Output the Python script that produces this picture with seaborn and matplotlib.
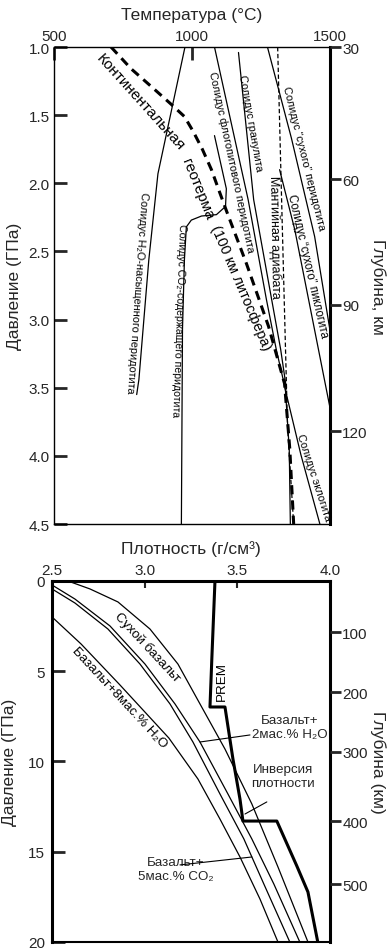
import matplotlib
matplotlib.use("Agg")
import matplotlib.pyplot as plt
import numpy as np
import seaborn as sns

sns.set_theme(style="ticks")
plt.rcParams['font.family'] = ['Liberation Sans', 'DejaVu Sans']

# ---------- top panel: temperature (C) vs pressure (GPa) ----------
geotherm_t = [707, 780, 853, 925, 973, 1005, 1038, 1071, 1096, 1125, 1198, 1278, 1336, 1355, 1369]
geotherm_p = [1.0, 1.16, 1.29, 1.42, 1.51, 1.62, 1.75, 1.90, 2.04, 2.20, 2.59, 3.05, 3.47, 3.95, 4.5]

h2o_sol_t = [975, 935, 877, 844, 808, 800]
h2o_sol_p = [1.0, 1.38, 1.93, 2.56, 3.44, 3.55]

co2_sol_t = [1082, 1125, 1122, 1089, 1035, 998, 980, 973, 966, 962]
co2_sol_p = [1.65, 2.04, 2.17, 2.23, 2.24, 2.27, 2.32, 2.56, 3.07, 4.5]

phlog_t = [1082, 1204, 1270, 1306, 1339, 1353, 1357]
phlog_p = [1.0, 2.12, 2.85, 3.22, 3.51, 3.95, 4.5]

granul_t = [1169, 1224, 1289, 1322, 1343]
granul_p = [1.04, 2.12, 2.85, 3.22, 3.51]

dry_perid_t = [1274, 1361, 1445, 1500]
dry_perid_p = [1.0, 1.67, 2.39, 3.07]

dry_piclog_t = [1318, 1373, 1500]
dry_piclog_p = [1.90, 2.34, 3.64]

adiabat_t = [1311, 1329, 1347, 1369]
adiabat_p = [1.0, 2.41, 3.80, 4.5]

eclog_t = [1337, 1395, 1464]
eclog_p = [3.5, 3.99, 4.5]

temp_ticks = [500, 1000, 1500]
p_ticks_top = [1.0, 1.5, 2.0, 2.5, 3.0, 3.5, 4.0, 4.5]
depth_km_top = [30, 60, 90, 120]
depth_gpa_top = [1.0, 1.97, 2.89, 3.82]

# ---------- bottom panel: density (g/cm3) vs pressure (GPa) ----------
dry_bas_rho = [2.586, 2.705, 2.856, 3.029, 3.180, 3.299, 3.434, 3.579, 3.720, 3.882]
dry_bas_p = [0.0, 0.44, 1.16, 2.66, 4.60, 6.81, 9.31, 12.35, 15.84, 20.0]

h2o2_rho = [2.5, 2.624, 2.813, 3.002, 3.164, 3.299, 3.450, 3.579, 3.698, 3.838]
h2o2_p = [0.22, 1.0, 2.49, 4.60, 6.81, 8.92, 11.80, 14.29, 16.79, 20.0]

co2_5_rho = [2.5, 2.624, 2.802, 2.975, 3.137, 3.261, 3.407, 3.536, 3.644, 3.784]
co2_5_p = [0.44, 1.22, 2.66, 4.60, 6.81, 8.92, 11.80, 14.29, 16.79, 20.0]

h2o8_rho = [2.5, 2.657, 2.867, 3.131, 3.288, 3.407, 3.515, 3.623, 3.720]
h2o8_p = [1.99, 3.49, 5.76, 8.70, 10.97, 13.19, 15.29, 17.62, 20.0]

prem_rho = [3.380, 3.363, 3.353, 3.434, 3.477, 3.515, 3.531, 3.714, 3.822, 3.882, 3.935]
prem_p = [0.0, 4.32, 6.98, 6.98, 9.86, 12.08, 13.30, 13.30, 15.79, 17.23, 20.0]

rho_ticks = [2.5, 3.0, 3.5, 4.0]
p_ticks_bot = [0, 5, 10, 15, 20]
depth_km_bot = [100, 200, 300, 400, 500]
depth_gpa_bot = [2.83, 6.15, 9.47, 13.3, 16.8]

fig = plt.figure(figsize=(3.88, 9.53), dpi=100)
ax1 = fig.add_axes([0.139, 0.4491, 0.711, 0.5005])
ax2 = fig.add_axes([0.134, 0.0105, 0.716, 0.3788])


def curve(ax, x, y, lw=0.9, **kw):
    sns.lineplot(x=x, y=y, ax=ax, sort=False, estimator=None, color='black',
                 lw=lw, legend=False, **kw)


# top panel curves
curve(ax1, geotherm_t, geotherm_p, lw=2.2, linestyle=(0, (3, 2)))
curve(ax1, h2o_sol_t, h2o_sol_p)
curve(ax1, co2_sol_t, co2_sol_p)
curve(ax1, phlog_t, phlog_p)
curve(ax1, granul_t, granul_p)
curve(ax1, dry_perid_t, dry_perid_p)
curve(ax1, dry_piclog_t, dry_piclog_p)
curve(ax1, adiabat_t, adiabat_p, lw=0.9, linestyle=(0, (3.5, 2)))
curve(ax1, eclog_t, eclog_p)

ax1.set_xlim(500, 1500)
ax1.set_ylim(4.5, 1.0)
ax1.xaxis.tick_top()
ax1.xaxis.set_label_position('top')
ax1.set_xticks(temp_ticks)
ax1.set_yticks(p_ticks_top)
ax1.set_yticklabels([f'{v:.1f}' for v in p_ticks_top])
ax1.tick_params(axis='x', direction='in', length=9, width=2, labelsize=11, pad=3,
                top=True, bottom=False)
ax1.tick_params(axis='y', direction='in', length=9, width=2, labelsize=11, pad=3)
ax1.set_xlabel('Температура (°C)', fontsize=12.5, labelpad=7)
ax1.set_ylabel('Давление (ГПа)', fontsize=12.5, labelpad=5)
for side, w in [('top', 1), ('left', 1), ('bottom', 1), ('right', 2.2)]:
    ax1.spines[side].set_linewidth(w)
    ax1.spines[side].set_color('black')

ax1r = ax1.twinx()
ax1r.set_ylim(4.5, 1.0)
ax1r.set_yticks(depth_gpa_top)
ax1r.set_yticklabels([str(v) for v in depth_km_top])
ax1r.tick_params(axis='y', direction='out', length=8, width=2, labelsize=11, pad=1)
ax1r.set_ylabel('Глубина, км', fontsize=12.5, rotation=270, labelpad=13)
for s in ax1r.spines.values():
    s.set_visible(False)

lab = dict(color='black', ha='center', va='center', rotation_mode='anchor')
sol = 7.9
ax1.text(813, 1.40, 'Континентальная', fontsize=11, rotation=-48, **lab)
ax1.text(1020, 2.04, 'геотерма', fontsize=11, rotation=-68, **lab)
ax1.text(1176, 2.76, '(100 км литосфера)', fontsize=10.5, rotation=-67, **lab)
ax1.text(1144, 1.84, 'Солидус флогопитового перидотита', fontsize=sol, rotation=-78, **lab)
ax1.text(1213, 1.55, 'Солидус гранулита', fontsize=sol, rotation=-80, **lab)
ax1.text(1405, 1.81, 'Солидус “сухого” перидотита', fontsize=sol, rotation=-76, **lab)
ax1.text(1420, 2.60, 'Солидус “сухого” пиклогита', fontsize=8.3, rotation=-77, **lab)
ax1.text(1299, 2.39, 'Мантийная адиабата', fontsize=9, rotation=-89, **lab)
ax1.text(1442, 4.15, 'Солидус эклогита', fontsize=sol, rotation=-72, **lab)
ax1.text(802, 2.80, 'Солидус H₂O-насыщенного перидотита', fontsize=sol, rotation=-94, **lab)
ax1.text(951, 3.00, 'Солидус CO₂-содержащего перидотита', fontsize=7.6, rotation=-92, **lab)

# bottom panel curves
curve(ax2, dry_bas_rho, dry_bas_p)
curve(ax2, h2o2_rho, h2o2_p)
curve(ax2, co2_5_rho, co2_5_p)
curve(ax2, h2o8_rho, h2o8_p)
curve(ax2, prem_rho, prem_p, lw=2.2)

ax2.set_xlim(2.5, 4.0)
ax2.set_ylim(20, 0)
ax2.xaxis.tick_top()
ax2.xaxis.set_label_position('top')
ax2.set_xticks(rho_ticks)
ax2.set_xticklabels([f'{v:.1f}' for v in rho_ticks])
ax2.set_yticks(p_ticks_bot)
ax2.tick_params(axis='x', direction='in', length=5, width=1.5, labelsize=11, pad=3,
                top=True, bottom=False)
ax2.tick_params(axis='y', direction='in', length=9, width=2, labelsize=11, pad=5)
ax2.set_xlabel('Плотность (г/см³)', fontsize=12.5, labelpad=7)
ax2.set_ylabel('Давление (ГПа)', fontsize=12.5, labelpad=8)
for side, w in [('top', 2.2), ('left', 2.2), ('bottom', 1.5), ('right', 2.2)]:
    ax2.spines[side].set_linewidth(w)
    ax2.spines[side].set_color('black')

ax2r = ax2.twinx()
ax2r.set_ylim(20, 0)
ax2r.set_yticks(depth_gpa_bot)
ax2r.set_yticklabels([str(v) for v in depth_km_bot])
ax2r.tick_params(axis='y', direction='out', length=8, width=2, labelsize=11, pad=1)
ax2r.set_ylabel('Глубина (км)', fontsize=12.5, rotation=270, labelpad=13)
for s in ax2r.spines.values():
    s.set_visible(False)

blab = 9.6
ax2.text(3.013, 3.60, 'Сухой базальт', fontsize=blab, rotation=-47, **lab)
ax2.text(2.862, 6.43, 'Базальт+8мас.% H₂O', fontsize=blab, rotation=-47, **lab)
ax2.text(3.417, 5.54, 'PREM', fontsize=blab, rotation=90, **lab)

ptr = dict(arrowstyle='-', lw=0.8, color='black', shrinkA=0, shrinkB=0)
p_h2o2 = 8.92
ax2.text(3.784, 8.09, 'Базальт+\n2мас.% H₂O', fontsize=blab, ha='center', va='center')
ax2.annotate('', xy=(np.interp(p_h2o2, h2o2_p, h2o2_rho), p_h2o2), xytext=(3.569, 8.53),
             arrowprops=ptr)
ax2.text(3.747, 10.80, 'Инверсия\nплотности', fontsize=blab, ha='center', va='center')
ax2.annotate('', xy=(3.542, 12.91), xytext=(3.66, 12.24), arrowprops=ptr)
p_co2 = 15.29
ax2.text(3.169, 15.96, 'Базальт+\n5мас.% CO₂', fontsize=blab, ha='center', va='center')
ax2.annotate('', xy=(np.interp(p_co2, co2_5_p, co2_5_rho), p_co2), xytext=(3.191, 15.73),
             arrowprops=ptr)

fig.savefig('out.png', dpi=100)
